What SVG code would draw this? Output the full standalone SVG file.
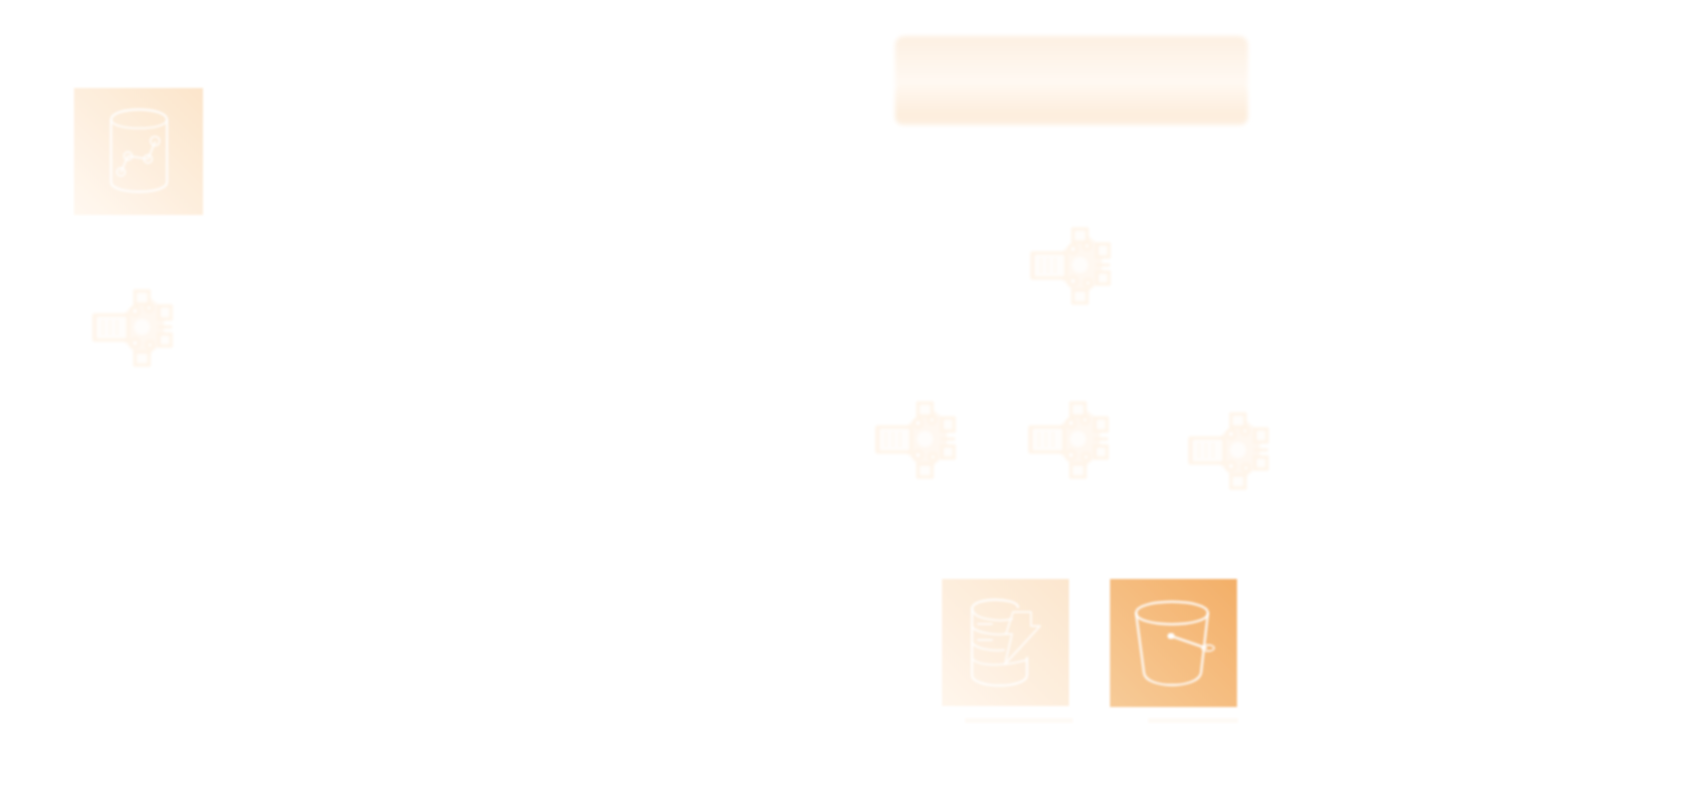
<svg xmlns="http://www.w3.org/2000/svg" width="1704" height="786" viewBox="0 0 1704 786">
<style>
.ln{fill:none;stroke:#fff;stroke-width:2.4;stroke-linejoin:round;stroke-linecap:round;stroke-opacity:.85}
.ln2{fill:none;stroke:#fff;stroke-width:2;stroke-linejoin:round;stroke-linecap:round;stroke-opacity:.75}
.silf{fill:#fff8f1}
.so{fill:#fffdfb;stroke:#fff4e8;stroke-width:3}
.si{fill:none;stroke:#fff6ec;stroke-width:1.5}
</style>
<defs>
<filter id="soft" x="-10%" y="-10%" width="120%" height="120%"><feGaussianBlur stdDeviation="1.2"/></filter>
<filter id="soft2" x="-15%" y="-15%" width="130%" height="130%"><feGaussianBlur stdDeviation="1.4"/></filter>
<filter id="soft3" x="-5%" y="-15%" width="110%" height="130%"><feGaussianBlur stdDeviation="2"/></filter>
<linearGradient id="g1" x1="0" y1="1" x2="1" y2="0"><stop offset="0" stop-color="#fff8f0"/><stop offset="1" stop-color="#fce5cb"/></linearGradient>
<linearGradient id="g2" x1="0" y1="1" x2="1" y2="0"><stop offset="0" stop-color="#fff6ec"/><stop offset="1" stop-color="#fce6ce"/></linearGradient>
<linearGradient id="g3" x1="0" y1="1" x2="1" y2="0"><stop offset="0" stop-color="#f7cb98"/><stop offset="1" stop-color="#f3af68"/></linearGradient>
<linearGradient id="b1" x1="0" y1="0" x2="0" y2="1"><stop offset="0" stop-color="#fdf0e2"/><stop offset="1" stop-color="#fffbf7"/></linearGradient>
<linearGradient id="b2" x1="0" y1="0" x2="0" y2="1"><stop offset="0" stop-color="#fff8f0"/><stop offset=".75" stop-color="#fdeedd"/><stop offset="1" stop-color="#fdf0e2"/></linearGradient>
<g id="stream" filter="url(#soft2)">
<path class="silf" d="M0 26H32L42 16V2H58V10L67 17H80V32H72V45H80V58H67L58 66V78H42V64L32 53H0Z"/>
<rect class="so" x="3" y="27" width="33" height="25"/>
<path class="si" d="M11 32V47M18 32V47M25 32V47"/>
<rect class="so" x="43" y="3" width="14" height="13"/>
<rect class="so" x="43" y="64" width="14" height="13"/>
<rect class="so" x="67" y="18" width="12" height="13"/>
<rect class="so" x="67" y="46" width="12" height="12"/>
<circle cx="50" cy="39" r="8" fill="#fffdfb"/>
<circle class="so" cx="43" cy="23" r="4"/><circle class="so" cx="57" cy="20" r="3.5"/>
<circle class="so" cx="43" cy="55" r="4"/><circle class="so" cx="58" cy="57" r="3.5"/>
<path d="M66 39H80" fill="none" stroke="#fff4e8" stroke-width="3"/>
</g>
</defs>
<rect width="1704" height="786" fill="#fff"/>
<g id="connectors"></g>
<g id="node-analytics">
<rect x="74" y="88" width="129" height="127" fill="url(#g1)" filter="url(#soft)"/>
<g filter="url(#soft)">
<path class="ln" d="M111 120C111 106 167 106 167 120V182C167 195 111 195 111 182Z"/>
<path class="ln2" d="M111 120C113 131 165 131 167 120"/>
<path class="ln2" d="M121 172L128 156L148 159L155 142"/>
<circle class="ln2" cx="121" cy="172" r="4"/><circle class="ln2" cx="128" cy="156" r="4"/><circle class="ln2" cx="148" cy="159" r="4"/><circle class="ln2" cx="155" cy="141" r="4.5"/>
</g>
</g>
<g id="node-stream-left"><use href="#stream" x="92" y="288"/></g>
<g id="node-box" filter="url(#soft3)">
<rect x="895" y="36" width="353" height="60" rx="9" fill="url(#b1)"/>
<rect x="895" y="84" width="353" height="41" rx="8" fill="url(#b2)"/>
</g>
<g id="node-stream-top"><use href="#stream" x="1030" y="226"/></g>
<g id="node-stream-a"><use href="#stream" x="875" y="400"/></g>
<g id="node-stream-b"><use href="#stream" x="1028" y="400"/></g>
<g id="node-stream-c"><use href="#stream" x="1188" y="411"/></g>
<g id="node-database">
<rect x="942" y="579" width="127" height="127" fill="url(#g2)" filter="url(#soft)"/>
<g filter="url(#soft)">
<path class="ln" d="M1018 607C1016 597 972 597 972 609V675C972 689 1027 689 1027 675V658"/>
<path class="ln2" d="M972 609C974 620 1000 622 1012 619M972 627C978 634 998 635 1006 634M972 643C978 650 996 651 1004 650M972 659C980 666 1000 667 1027 660"/>
<path class="ln2" d="M978 624H992M978 640H992"/>
<path class="ln2" d="M1013 612H1031V626H1040L1005 664L1012 634H1006Z"/>
</g>
</g>
<g id="node-bucket">
<rect x="1110" y="579" width="127" height="128" fill="url(#g3)" filter="url(#soft)"/>
<g filter="url(#soft)">
<path class="ln" d="M1136 613C1136 598 1208 598 1208 613C1208 628 1136 628 1136 613Z"/>
<path class="ln" d="M1136 613L1144 673C1146 689 1198 689 1201 673L1208 613"/>
<path class="ln" d="M1171 636L1206 648"/>
<ellipse cx="1171" cy="636" rx="3.5" ry="3" fill="#fff"/>
<ellipse class="ln2" cx="1208" cy="648" rx="6" ry="3"/>
</g>
</g>
<g id="marks" filter="url(#soft)">
<rect x="965" y="718" width="108" height="5" fill="#fefaf6"/>
<rect x="1148" y="718" width="90" height="5" fill="#fefaf6"/>
</g>
</svg>
